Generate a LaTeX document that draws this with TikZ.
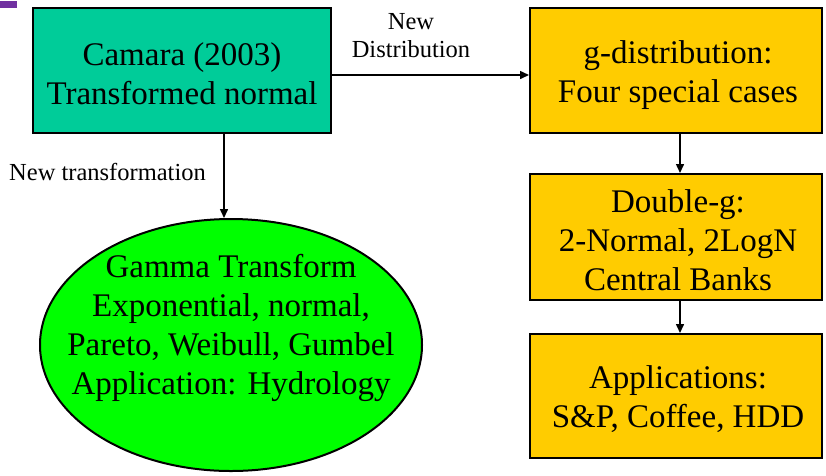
\documentclass[tikz,border=0pt]{standalone}
\usepackage{fontspec}
\setmainfont{Liberation Serif}
\usetikzlibrary{arrows.meta,shapes.geometric}
\definecolor{tealc}{HTML}{00CC99}
\definecolor{yel}{HTML}{FFCC00}
\definecolor{grn}{HTML}{00FF00}
\definecolor{purp}{HTML}{7030A0}
\tikzset{
  bigtext/.style={font=\fontsize{33}{39}\selectfont, align=center},
  boxstyle/.style={draw=black, line width=2pt, inner sep=0pt, bigtext},
  arr/.style={line width=1.5pt, -{Triangle[length=9pt,width=8pt]}},
  lbl/.style={font=\fontsize{24.5}{28}\selectfont, align=center, inner sep=0pt}
}
\begin{document}
\begin{tikzpicture}[x=1pt,y=-1pt]
\useasboundingbox (0,0) rectangle (826,475);
\fill[purp] (0,1) rectangle (17,8);
\node[boxstyle, fill=tealc, minimum width=298pt, minimum height=125pt] (camara) at (182,70.5) {};
\node[bigtext] (camaratext) at (182,74) {Camara (2003)\\Transformed normal};
\node[boxstyle, fill=yel, minimum width=292pt, minimum height=125pt] (gdist) at (676,70.5) {};
\node[bigtext] (gdisttext) at (678,75) {g-distribution:\\Four special cases};
\node[boxstyle, fill=yel, minimum width=292pt, minimum height=126pt] (double) at (676,237) {};
\node[bigtext] (doubletext) at (678,240) {Double-g:\\2-Normal, 2LogN\\Central Banks};
\node[boxstyle, fill=yel, minimum width=292pt, minimum height=124pt] (appl) at (676,396) {};
\node[bigtext] (appltext) at (678,399) {Applications:\\S\&P, Coffee, HDD};
\node[ellipse, draw=black, line width=2pt, fill=grn, minimum width=382pt, minimum height=252pt, inner sep=0pt] (gamma) at (231,345) {};
\node[bigtext] (gammatext) at (231,328) {Gamma Transform\\Exponential, normal,\\Pareto, Weibull, Gumbel\\Application: Hydrology};
\draw[arr] (camara.east |- 0,75) -- (gdist.west |- 0,75);
\draw[arr] (224,133) -- (224,218);
\draw[arr] (gdist.south -| 680,0) -- (double.north -| 680,0);
\draw[arr] (double.south -| 680,0) -- (appl.north -| 680,0);
\node[lbl] (newdist) at (411,36) {New\\Distribution};
\node[lbl, anchor=west] (newtr) at (9,172) {New transformation};
\end{tikzpicture}
\end{document}
